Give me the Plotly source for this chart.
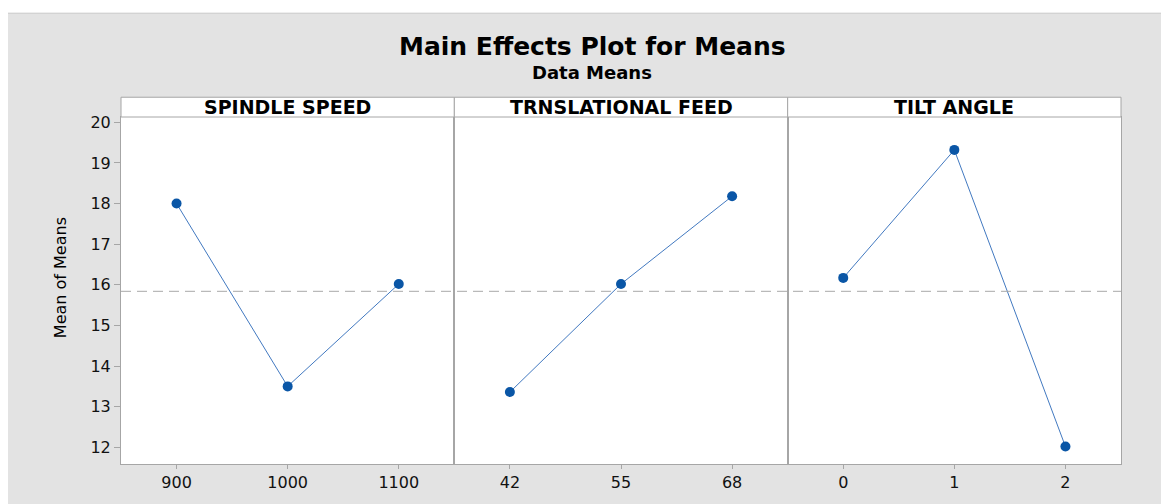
import plotly.graph_objects as go
from plotly.subplots import make_subplots

factors = ["SPINDLE SPEED", "TRNSLATIONAL FEED", "TILT ANGLE"]
spindle_levels = ["900", "1000", "1100"]
spindle_means = [18.0, 13.5, 16.02]
feed_levels = ["42", "55", "68"]
feed_means = [13.36, 16.02, 18.18]
tilt_levels = ["0", "1", "2"]
tilt_means = [16.17, 19.32, 12.02]
y_ticks = [12, 13, 14, 15, 16, 17, 18, 19, 20]

levels = [spindle_levels, feed_levels, tilt_levels]
means = [spindle_means, feed_means, tilt_means]
grand_mean = sum(spindle_means) / len(spindle_means)

OFF = 8  # page body margin
W, H = 1169 - OFF, 504 - OFF
L, R, T, B = 121 - OFF, 48, 117 - OFF, 36
pw, ph = W - L - R, H - T - B

def px(x):
    return (x - OFF - L) / pw

def py(y):
    return (H - B - (y - OFF)) / ph

fig = make_subplots(rows=1, cols=3, shared_yaxes=True, horizontal_spacing=0)

GRAY_BG = "#e3e3e3"
AX = "#a6a6a6"
tick_font = dict(family="DejaVu Sans", size=16, color="#111111")

for i in range(3):
    fig.add_trace(go.Scatter(
        x=levels[i], y=means[i], mode="lines+markers",
        line=dict(color="#4279c0", width=1),
        marker=dict(color="#0a56a6", size=10, symbol="circle"),
        showlegend=False, hoverinfo="x+y"), row=1, col=i + 1)
    fig.update_xaxes(type="category", range=[-0.5, 2.5], showgrid=False, zeroline=False,
                     showline=True, linecolor=AX, linewidth=1, mirror=True,
                     ticks="outside", ticklen=4, tickcolor=AX, tickfont=tick_font,
                     row=1, col=i + 1)

fig.update_yaxes(range=[11.59, 20.13], tickvals=y_ticks, showgrid=False, zeroline=False,
                 showline=True, linecolor=AX, linewidth=1, mirror=True,
                 ticks="outside", ticklen=6, tickcolor=AX, tickfont=tick_font)
fig.update_yaxes(ticks="", showticklabels=False, row=1, col=2)
fig.update_yaxes(ticks="", showticklabels=False, row=1, col=3)

shapes = []
# gray outer panel
shapes.append(dict(type="rect", xref="paper", yref="paper",
                   x0=px(7), x1=px(1190), y0=py(520), y1=py(12),
                   fillcolor=GRAY_BG, line=dict(color="#c8c8c8", width=1), layer="below"))
# white plotting area
shapes.append(dict(type="rect", xref="paper", yref="paper",
                   x0=0, x1=1, y0=0, y1=1,
                   fillcolor="white", line=dict(width=0), layer="below"))
# header boxes
edges = [0, 1 / 3, 2 / 3, 1]
for i in range(3):
    shapes.append(dict(type="rect", xref="paper", yref="paper",
                       x0=edges[i], x1=edges[i + 1], y0=1, y1=py(97),
                       fillcolor="white", line=dict(color=AX, width=1)))
# reference line
shapes.append(dict(type="line", xref="paper", yref="y",
                   x0=0, x1=1, y0=grand_mean, y1=grand_mean,
                   line=dict(color="#a8a8a8", width=1, dash="10px,6px")))

annotations = []
for i in range(3):
    annotations.append(dict(text="<b>" + factors[i] + "</b>", xref="paper", yref="paper",
                            x=(edges[i] + edges[i + 1]) / 2, y=py(107), showarrow=False,
                            font=dict(family="DejaVu Sans", size=19, color="black"),
                            xanchor="center", yanchor="middle"))
annotations.append(dict(text="<b>Main Effects Plot for Means</b>", xref="paper", yref="paper",
                        x=px(592), y=py(46), showarrow=False, xanchor="center", yanchor="middle",
                        font=dict(family="DejaVu Sans", size=25, color="black")))
annotations.append(dict(text="<b>Data Means</b>", xref="paper", yref="paper",
                        x=px(592), y=py(72), showarrow=False, xanchor="center", yanchor="middle",
                        font=dict(family="DejaVu Sans", size=18, color="black")))
annotations.append(dict(text="Mean of Means", xref="paper", yref="paper",
                        x=px(60), y=py(280), showarrow=False, textangle=-90,
                        xanchor="center", yanchor="middle",
                        font=dict(family="DejaVu Sans", size=16, color="black")))

fig.update_layout(width=W, height=H, margin=dict(l=L, r=R, t=T, b=B),
                  paper_bgcolor="white", plot_bgcolor="white",
                  shapes=shapes, annotations=annotations)

fig.write_html("out.html")
